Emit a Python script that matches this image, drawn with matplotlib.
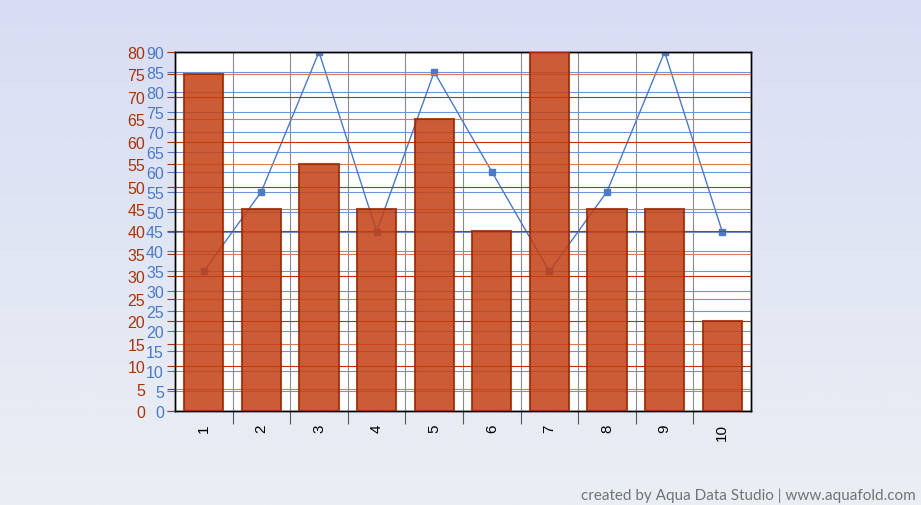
import matplotlib.pyplot as plt
import numpy as np

categories = ["1", "2", "3", "4", "5", "6", "7", "8", "9", "10"]
bar_values = [75, 45, 55, 45, 65, 40, 80, 45, 45, 20]
line_values = [35, 55, 90, 45, 85, 60, 35, 55, 90, 45]
red_ticks = list(range(0, 81, 5))
blue_ticks = list(range(0, 91, 5))

RED_TXT = "#a8340c"
BLUE_TXT = "#4a7ac8"

plt.rcParams["font.family"] = ["Liberation Sans", "DejaVu Sans"]

fig = plt.figure(figsize=(9.21, 5.06), dpi=100)

# gradient background
bg = fig.add_axes([0, 0, 1, 1], zorder=-10)
top = np.array([216, 221, 244]) / 255
bot = np.array([234, 239, 244]) / 255
t = np.linspace(0, 1, 256)[:, None]
grad = (top * (1 - t) + bot * t)[:, None, :]
bg.imshow(grad, aspect="auto", extent=[0, 1, 0, 1])
bg.axis("off")

ax = fig.add_axes([175 / 921, 1 - 412 / 506, 576 / 921, 359 / 506])
ax.set_facecolor("white")
x = np.arange(1, len(categories) + 1)

# line on blue axis (drawn under the bars)
ax.plot(x, line_values, color="#4a7ac8", lw=1, marker="s", ms=4.5,
        markerfacecolor="#4a7ac8", markeredgecolor="#4a7ac8", zorder=3)
ax.set_ylim(0, 90)
ax.set_xlim(0.5, len(categories) + 0.5)
ax.set_yticks(blue_ticks)
ax.set_yticklabels([str(v) for v in blue_ticks])
ax.tick_params(axis="y", colors=BLUE_TXT, length=6, width=0.8, pad=2, labelsize=11.5)
ax.set_axisbelow(True)
ax.grid(axis="y", color="#6b95dc", lw=0.8)
ax.set_xticks(x)
ax.set_xticklabels(categories, rotation=90)
ax.set_xticks(x[:-1] + 0.5, minor=True)
ax.tick_params(axis="x", which="major", length=0, pad=9, labelsize=11)
ax.tick_params(axis="x", which="minor", length=9, width=0.8, color="#555555")
ax.grid(axis="x", which="minor", color="#8a8a8a", lw=0.8)

# bars on red axis
ax2 = ax.twinx()
ax2.bar(x, bar_values, width=0.68, color="#c43f12", alpha=0.85,
        edgecolor="#9a2a05", linewidth=1.5, zorder=5)
ax2.set_ylim(0, 80)
ax2.yaxis.tick_left()
ax2.yaxis.set_label_position("left")
ax2.set_yticks(red_ticks)
ax2.set_yticklabels([str(v) for v in red_ticks])
ax2.tick_params(axis="y", colors=RED_TXT, length=6, width=0.8, pad=15.5, labelsize=11.5)
ax2.set_axisbelow(True)
ax2.grid(axis="y", lw=0.8)
for v, gl, tl in zip(red_ticks, ax2.get_ygridlines(), ax2.yaxis.get_major_ticks()):
    c = "#c03000" if v % 10 == 0 else "#e07a55"
    gl.set_color(c)
    tl.tick1line.set_color(c)

for a in (ax, ax2):
    for s in a.spines.values():
        s.set_color("black")
        s.set_linewidth(1)

fig.text(916 / 921, 3 / 506, "created by Aqua Data Studio | www.aquafold.com",
         ha="right", va="bottom", color="#737373", fontsize=11, family="Lato")

fig.savefig("out.png", dpi=100)
